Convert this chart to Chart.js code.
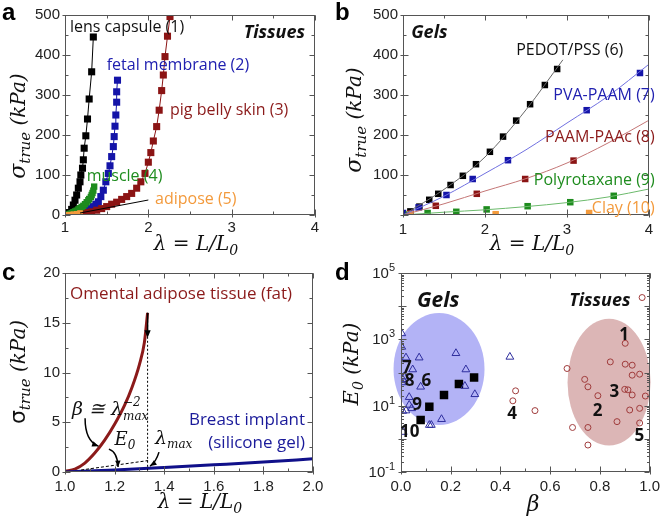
<!DOCTYPE html>
<html>
<head>
<meta charset="utf-8">
<script src="https://cdn.jsdelivr.net/npm/chart.js@4.4.1/dist/chart.umd.min.js"></script>
<style>
  html, body { margin: 0; padding: 0; background: #fff; }
  #wrap { position: relative; width: 666px; height: 517px; overflow: hidden; }
  canvas { position: absolute; }
</style>
</head>
<body>
<div id="wrap">
  <canvas id="ca" width="333" height="258" style="left:0;top:0"></canvas>
  <canvas id="cb" width="333" height="258" style="left:333px;top:0"></canvas>
  <canvas id="cc" width="333" height="259" style="left:0;top:258px"></canvas>
  <canvas id="cd" width="333" height="259" style="left:333px;top:258px"></canvas>
</div>
<script>
// ---- panel a: tissues, stretch vs true stress (kPa)
const lensX = [1.00, 1.05, 1.08, 1.10, 1.12, 1.14, 1.16, 1.18, 1.19, 1.21, 1.22, 1.23, 1.25, 1.27, 1.29, 1.32, 1.34];
const lensY = [0, 6, 14, 25, 37, 50, 67, 83, 100, 117, 138, 167, 198, 240, 290, 358, 445];
const fetalX = [1.10, 1.18, 1.22, 1.26, 1.30, 1.34, 1.37, 1.40, 1.43, 1.46, 1.49, 1.52, 1.54, 1.56, 1.58, 1.59, 1.60, 1.61, 1.62, 1.62, 1.63];
const fetalY = [3, 7, 9, 12, 16, 21, 27, 33, 46, 62, 83, 104, 123, 146, 171, 196, 222, 250, 282, 308, 337];
const pigX = [1.02, 1.10, 1.20, 1.26, 1.32, 1.38, 1.44, 1.50, 1.56, 1.62, 1.68, 1.74, 1.80, 1.86, 1.91, 1.96, 2.00, 2.03, 2.06, 2.10, 2.13, 2.16, 2.18, 2.20, 2.23, 2.26];
const pigY = [0, 1, 3, 6, 8, 12, 16, 21, 27, 32, 39, 46, 54, 67, 83, 104, 132, 156, 185, 221, 262, 311, 350, 396, 447, 496];
const muscleX = [1.02, 1.04, 1.06, 1.08, 1.10, 1.12, 1.14, 1.16, 1.18, 1.20, 1.22, 1.24, 1.26, 1.28, 1.29, 1.31, 1.32, 1.33, 1.34, 1.35];
const muscleY = [1, 2, 3, 5, 7, 9, 11, 14, 17, 20, 23, 27, 32, 37, 40, 45, 50, 55, 61, 71];
const adiposeX = [1.02, 1.06, 1.10, 1.14, 1.18];
const adiposeY = [0.5, 1, 2, 3, 5];

// ---- panel b: gels
const pedotX = [1.00, 1.09, 1.20, 1.32, 1.43, 1.58, 1.73, 1.89, 2.06, 2.22, 2.38, 2.55, 2.73, 2.88];
const pedotY = [0, 9, 21, 38, 53, 75, 98, 127, 158, 196, 236, 277, 325, 365];
const pedotFitX = [1.0, 1.5, 2.0, 2.5, 2.95];
const pedotFitY = [0, 64, 145, 263, 388];
const pvaX = [1.00, 1.19, 1.53, 1.85, 2.28, 3.24, 3.89];
const pvaY = [5, 19, 50, 90, 137, 262, 355];
const pvaFitX = [1.0, 1.5, 2.0, 2.5, 3.0, 3.5, 4.0];
const pvaFitY = [0, 47, 104, 163, 230, 297, 377];
const paamX = [1.09, 1.40, 1.90, 2.49, 3.08];
const paamY = [4, 23, 53, 90, 136];
const paamFitX = [1.0, 1.5, 2.0, 2.5, 3.0, 3.5, 4.0];
const paamFitY = [0, 28, 60, 91, 130, 180, 237];
const polyX = [1.07, 1.30, 1.65, 2.02, 2.52, 3.04, 3.57];
const polyY = [1, 5, 8, 14, 22, 32, 48];
const polyFitX = [1.0, 1.5, 2.0, 2.5, 3.0, 3.5, 4.0];
const polyFitY = [0, 7, 13, 21, 31, 45, 65];
const clayX = [1.09, 2.13, 3.27];
const clayY = [2, 2, 5];

// ---- panel c: fat vs breast implant
const fatX = [1.00, 1.04, 1.08, 1.12, 1.16, 1.20, 1.24, 1.27, 1.30, 1.32, 1.333];
const fatY = [0.07, 0.3, 0.9, 1.9, 3.2, 4.8, 6.7, 8.5, 10.8, 13.0, 16];
const implantX = [1.0, 1.2, 1.4, 1.6, 1.8, 2.0];
const implantY = [0, 0.2, 0.45, 0.72, 1.0, 1.33];

// ---- panel d: beta vs E0 (kPa)
const gelB = [0.003, 0.003, 0.02, 0.073, 0.221, 0.438, 0.047, 0.261, 0.007, 0.079, 0.257, 0.297, 0.033, 0.033, 0.043, 0.02, 0.007, 0.163, 0.114, 0.122, 0.009, 0.004, 0.012];
const gelE = [1510, 590, 280, 280, 380, 295, 123, 123, 62, 37, 39, 22, 18, 10.5, 8.3, 7.1, 6.9, 3.9, 2.6, 2.6, 1.6, 50, 75];
const repB = [0.079, 0.114, 0.173, 0.233, 0.294];
const repE = [3.7, 9.3, 21, 45, 71];
const tisB = [0.97, 0.902, 0.668, 0.842, 0.902, 0.93, 0.93, 0.96, 0.739, 0.752, 0.9, 0.913, 0.93, 0.983, 0.792, 0.96, 0.92, 0.869, 0.96, 0.69, 0.752, 0.752, 0.461, 0.45, 0.539];
const tisE = [18200, 759, 132, 209, 178, 166, 83, 89, 62, 37, 31, 30, 21, 19.5, 20, 8.3, 7.4, 3.3, 3.0, 2.2, 2.2, 0.65, 28, 14, 7.1];
const logTicks = [0.1, 1, 10, 100, 1000, 10000, 100000];

const TICKF = { family: '"Liberation Sans", Arial, sans-serif', size: 15 };
const INK = '#222';
const SANS = '"Open Sans", sans-serif';
const MATH = '"DejaVu Serif", serif';

const pts = (xs, ys) => xs.map((x, i) => ({ x: x, y: ys[i] }));

const marks = (xs, ys, color, style, r, line) => ({
	data: pts(xs, ys),
	pointStyle: style,
	pointRadius: r,
	pointBackgroundColor: color,
	pointBorderColor: color,
	pointBorderWidth: 0,
	borderColor: color,
	borderWidth: 1,
	showLine: line,
});

const curve = (xs, ys, color, width) => ({
	data: pts(xs, ys),
	pointRadius: 0,
	borderColor: color,
	borderWidth: width,
	showLine: true,
	cubicInterpolationMode: 'monotone',
});

const linAxis = (min, max, step, pad, fmt, fit) => ({
	type: 'linear',
	min: min,
	max: max,
	ticks: { stepSize: step, padding: pad, font: TICKF, color: INK, callback: fmt, maxRotation: 0, autoSkip: false },
	grid: { display: false, drawTicks: false },
	border: { display: false },
	afterFit: fit,
});

// draw several text pieces in a row, each with its own font / vertical shift
function rich(ctx, parts, x, y, align) {
	let w = 0;
	parts.forEach((p) => { ctx.font = p[1]; w += ctx.measureText(p[0]).width; });
	let cx = align === 'center' ? x - w / 2 : align === 'right' ? x - w : x;
	ctx.textAlign = 'left';
	ctx.textBaseline = 'alphabetic';
	parts.forEach((p) => {
		ctx.font = p[1];
		ctx.fillText(p[0], cx, y + (p[2] || 0));
		cx += ctx.measureText(p[0]).width;
	});
}

function yTitle(ctx, parts, cx, cy) {
	ctx.save();
	ctx.translate(cx, cy);
	ctx.rotate(-Math.PI / 2);
	rich(ctx, parts, 0, 7, 'center');
	ctx.restore();
}

function label(ctx, s, x, y, font, color, align) {
	ctx.font = font;
	ctx.fillStyle = color;
	ctx.textAlign = align || 'left';
	ctx.textBaseline = 'middle';
	ctx.fillText(s, x, y);
}

function letter(ctx, s, y) {
	ctx.fillStyle = '#000';
	ctx.font = 'bold 24px "Liberation Sans", Arial, sans-serif';
	ctx.textAlign = 'left';
	ctx.textBaseline = 'alphabetic';
	ctx.fillText(s, 2, y);
}

function arrowHead(ctx, x0, y0, x1, y1, size) {
	const a = Math.atan2(y1 - y0, x1 - x0);
	ctx.beginPath();
	ctx.moveTo(x1, y1);
	ctx.lineTo(x1 - size * Math.cos(a - 0.4), y1 - size * Math.sin(a - 0.4));
	ctx.lineTo(x1 - size * Math.cos(a + 0.4), y1 - size * Math.sin(a + 0.4));
	ctx.closePath();
	ctx.fill();
}

// box around the plot with inward ticks on all four sides
const framePlugin = {
	id: 'frame',
	afterDraw(chart, args, o) {
		const { ctx, chartArea: a, scales: { x, y } } = chart;
		const L = Math.round(a.left) + 0.5, R = Math.round(a.right) - 0.5;
		const T = Math.round(a.top) + 0.5, B = Math.round(a.bottom) - 0.5;
		ctx.save();
		ctx.strokeStyle = '#555';
		ctx.lineWidth = 1;
		ctx.strokeRect(L, T, R - L, B - T);
		ctx.beginPath();
		const vt = (v, len, out) => {
			const p = Math.round(x.getPixelForValue(v)) + 0.5;
			ctx.moveTo(p, B + out); ctx.lineTo(p, B - len);
			ctx.moveTo(p, T); ctx.lineTo(p, T + len);
		};
		const ht = (v, len, out) => {
			const p = Math.round(y.getPixelForValue(v)) + 0.5;
			ctx.moveTo(L - out, p); ctx.lineTo(L + len, p);
			ctx.moveTo(R, p); ctx.lineTo(R - len, p);
		};
		x.ticks.forEach((t) => vt(t.value, 5, 3));
		for (let v = x.min; v <= x.max + 1e-9; v += o.xMinor) vt(v, 3, 0);
		if (o.log) {
			logTicks.forEach((v) => ht(v, 5, 3));
			logTicks.slice(0, -1).forEach((d) => {
				for (let k = 2; k < 10; k++) ht(d * k, 2.5, 0);
			});
		} else {
			y.ticks.forEach((t) => ht(t.value, 5, 3));
			for (let v = y.min; v <= y.max + 1e-9; v += o.yMinor) ht(v, 3, 0);
		}
		ctx.stroke();
		ctx.restore();
	},
};

Chart.register(framePlugin);
Chart.defaults.font.family = TICKF.family;

const baseOpts = (pad, xAxis, yAxis, frame) => ({
	responsive: false,
	animation: false,
	events: [],
	layout: { padding: pad },
	plugins: { legend: { display: false }, tooltip: { enabled: false }, frame: frame },
	scales: { x: xAxis, y: yAxis },
});

const sigmaTitle = (sigmaFont) => [
	['σ', sigmaFont, 0],
	['true', 'italic 15px ' + MATH, 5],
	[' (kPa)', 'italic 20px ' + MATH, 0],
];
const lambdaTitle = [['λ = L/L', 'italic 20px ' + MATH, 0], ['0', 'italic 14px ' + MATH, 5]];

// ================= a
new Chart(document.getElementById('ca'), {
	type: 'scatter',
	data: {
		datasets: [
			marks(adiposeX, adiposeY, '#f39a3c', 'rect', 4, false),
			marks(muscleX, muscleY, '#1e8c1e', 'rect', 4.5, false),
			marks(pigX, pigY, '#8b1414', 'rect', 5, true),
			marks(fetalX, fetalY, '#1414a8', 'rect', 5, true),
			marks(lensX, lensY, '#000000', 'rect', 5, true),
		],
	},
	options: baseOpts(
		{ left: 0, right: 18, top: 15, bottom: 0 },
		linAxis(1, 4, 1, 4, (v) => v, (s) => { s.height = 43; }),
		linAxis(0, 500, 100, 5, (v) => v, (s) => { s.width = 65; }),
		{ xMinor: 0.5, yMinor: 50 }
	),
	plugins: [{
		id: 'annA',
		afterDraw(chart) {
			const { ctx, scales: { x, y } } = chart;
			const X = (v) => x.getPixelForValue(v), Y = (v) => y.getPixelForValue(v);
			ctx.save();
			ctx.strokeStyle = '#000';
			ctx.lineWidth = 1;
			ctx.beginPath();
			ctx.moveTo(X(1.18), Y(5));
			ctx.lineTo(X(2.0), Y(37.5));
			ctx.stroke();
			const f = '16px ' + SANS;
			label(ctx, 'lens capsule (1)', X(1.06), Y(470), f, '#111');
			label(ctx, 'Tissues', X(3.88), Y(455), 'bold italic 18px ' + SANS, '#111', 'right');
			label(ctx, 'fetal membrane (2)', X(1.50), Y(375), f, '#2020b0');
			label(ctx, 'pig belly skin (3)', X(2.26), Y(262), f, '#8b1a1a');
			label(ctx, 'muscle (4)', X(1.26), Y(97), f, '#1e8c1e');
			label(ctx, 'adipose (5)', X(2.08), Y(40), f, '#f39a3c');
			ctx.fillStyle = '#111';
			rich(ctx, lambdaTitle, 196, 250, 'center');
			yTitle(ctx, sigmaTitle('italic 22px ' + MATH), 18, 126);
			letter(ctx, 'a', 20);
			ctx.restore();
		},
	}],
});

// ================= b
new Chart(document.getElementById('cb'), {
	type: 'scatter',
	data: {
		datasets: [
			curve(polyFitX, polyFitY, '#6cba6c', 1),
			curve(paamFitX, paamFitY, '#c47676', 1),
			curve(pvaFitX, pvaFitY, '#7070e0', 1),
			curve(pedotFitX, pedotFitY, '#666666', 1),
			marks(clayX, clayY, '#f39a3c', 'rect', 4.6, false),
			marks(polyX, polyY, '#1e8c1e', 'rect', 4.6, false),
			marks(paamX, paamY, '#8b1414', 'rect', 4.6, false),
			marks(pvaX, pvaY, '#1414a8', 'rect', 4.6, false),
			marks(pedotX, pedotY, '#000000', 'rect', 4.6, false),
		],
	},
	options: baseOpts(
		{ left: 0, right: 17, top: 15, bottom: 0 },
		linAxis(1, 4, 1, 6, (v) => v, (s) => { s.height = 43; }),
		linAxis(0, 500, 100, 5, (v) => (v === 0 ? '' : v), (s) => { s.width = 70; }),
		{ xMinor: 0.5, yMinor: 50 }
	),
	plugins: [{
		id: 'annB',
		afterDraw(chart) {
			const { ctx, scales: { x, y } } = chart;
			const X = (v) => x.getPixelForValue(v), Y = (v) => y.getPixelForValue(v);
			ctx.save();
			const f = '16px ' + SANS;
			label(ctx, 'Gels', X(1.10), Y(455), 'bold italic 18px ' + SANS, '#111');
			label(ctx, 'PEDOT/PSS (6)', X(2.38), Y(412), f, '#111');
			label(ctx, 'PVA-PAAM (7)', X(4.07), Y(300), f, '#2020b0', 'right');
			label(ctx, 'PAAM-PAAc (8)', X(4.07), Y(195), f, '#8b1a1a', 'right');
			label(ctx, 'Polyrotaxane (9)', X(4.07), Y(87), f, '#1e8c1e', 'right');
			label(ctx, 'Clay (10)', X(4.07), Y(17), f, '#f39a3c', 'right');
			ctx.fillStyle = '#111';
			rich(ctx, lambdaTitle, 199, 250, 'center');
			yTitle(ctx, sigmaTitle('italic 22px ' + MATH), 21, 120);
			letter(ctx, 'b', 20);
			ctx.restore();
		},
	}],
});

// ================= c
new Chart(document.getElementById('cc'), {
	type: 'scatter',
	data: {
		datasets: [
			curve(implantX, implantY, '#10108a', 3),
			curve(fatX, fatY, '#8b1a1a', 3),
		],
	},
	options: baseOpts(
		{ left: 0, right: 20, top: 15, bottom: 0 },
		linAxis(1, 2, 0.2, 6, (v) => v.toFixed(1), (s) => { s.height = 45; }),
		linAxis(0, 20, 5, 5, (v) => v, (s) => { s.width = 65; }),
		{ xMinor: 0.1, yMinor: 2.5 }
	),
	plugins: [{
		id: 'annC',
		afterDraw(chart) {
			const { ctx, scales: { x, y } } = chart;
			const X = (v) => x.getPixelForValue(v), Y = (v) => y.getPixelForValue(v);
			ctx.save();
			ctx.strokeStyle = '#000';
			ctx.fillStyle = '#000';
			ctx.lineWidth = 1;
			// dotted drop line at lambda max
			ctx.setLineDash([2, 2]);
			ctx.beginPath();
			ctx.moveTo(X(1.333), Y(16));
			ctx.lineTo(X(1.333), Y(0));
			ctx.stroke();
			// initial slope E0
			ctx.setLineDash([3, 2]);
			ctx.beginPath();
			ctx.moveTo(X(1.065), Y(0.2));
			ctx.lineTo(X(1.335), Y(1.15));
			ctx.stroke();
			ctx.setLineDash([]);
			ctx.lineWidth = 1.5;
			ctx.beginPath();
			ctx.moveTo(X(1.333), Y(16));
			ctx.lineTo(X(1.333), Y(14.2));
			ctx.stroke();
			arrowHead(ctx, X(1.333), Y(16), X(1.333), Y(13.5), 8);
			// curved pointers
			const bend = (a, c, b) => {
				ctx.beginPath();
				ctx.moveTo(X(a[0]), Y(a[1]));
				ctx.quadraticCurveTo(X(c[0]), Y(c[1]), X(b[0]), Y(b[1]));
				ctx.stroke();
				arrowHead(ctx, X(c[0]), Y(c[1]), X(b[0]), Y(b[1]), 7);
			};
			bend([1.081, 5.4], [1.081, 3.1], [1.135, 2.6]);
			bend([1.177, 2.3], [1.212, 2.0], [1.214, 0.5]);
			bend([1.379, 2.0], [1.367, 1.0], [1.343, 0.6]);

			label(ctx, 'Omental adipose tissue (fat)', X(1.02), Y(17.9), '17px ' + SANS, '#8b1a1a');
			label(ctx, 'Breast implant', X(1.968), Y(5.2), '17px ' + SANS, '#1a1a9a', 'right');
			label(ctx, '(silicone gel)', X(1.968), Y(2.9), '17px ' + SANS, '#1a1a9a', 'right');

			ctx.fillStyle = '#111';
			const mf = 'italic 19px ' + MATH, sf = 'italic 12px ' + MATH;
			const bx = X(1.028), by = Y(5.7);
			rich(ctx, [['β ≅ λ', mf, 0]], bx, by, 'left');
			ctx.font = mf;
			const ex = bx + ctx.measureText('β ≅ λ').width;
			rich(ctx, [['−2', sf, -9]], ex, by, 'left');
			rich(ctx, [['max', sf, 5]], ex, by, 'left');
			rich(ctx, [['E', 'italic 18px ' + MATH, 0], ['0', 'italic 12px ' + MATH, 4]], X(1.2), Y(2.7), 'left');
			rich(ctx, [['λ', 'italic 19px ' + MATH, 0], ['max', sf, 4]], X(1.363), Y(2.8), 'left');

			rich(ctx, lambdaTitle, 200, 250, 'center');
			yTitle(ctx, sigmaTitle('22px "DejaVu Sans", sans-serif'), 18, 114);
			letter(ctx, 'c', 22);
			ctx.restore();
		},
	}],
});

// ================= d
const ellipses = [
	{ b0: -0.03, b1: 0.336, e0: 2.63, e1: 6170, color: '#b3b3f6' },
	{ b0: 0.67, b1: 1.004, e0: 0.63, e1: 4170, color: '#dcb6b6' },
];

new Chart(document.getElementById('cd'), {
	type: 'scatter',
	data: {
		datasets: [
			{ ...marks(tisB, tisE, 'transparent', 'circle', 3, false), pointBorderColor: '#a03c3c', pointBorderWidth: 1 },
			{ ...marks(gelB, gelE, 'transparent', 'triangle', 4.5, false), pointBorderColor: '#2e2e9e', pointBorderWidth: 1 },
			marks(repB, repE, '#000000', 'rect', 6, false),
		],
	},
	options: baseOpts(
		{ left: 0, right: 16, top: 15, bottom: 0 },
		linAxis(0, 1, 0.2, 6, (v) => v.toFixed(1), (s) => { s.height = 45; }),
		{
			type: 'logarithmic',
			min: 0.1,
			max: 100000,
			ticks: { display: false },
			grid: { display: false, drawTicks: false },
			border: { display: false },
			afterFit: (s) => { s.width = 68; },
		},
		{ xMinor: 0.1, log: true }
	),
	plugins: [{
		id: 'annD',
		beforeDatasetsDraw(chart) {
			const { ctx, scales: { x, y } } = chart;
			ctx.save();
			ellipses.forEach((e) => {
				const l = x.getPixelForValue(e.b0), r = x.getPixelForValue(e.b1);
				const t = y.getPixelForValue(e.e1), b = y.getPixelForValue(e.e0);
				ctx.fillStyle = e.color;
				ctx.beginPath();
				ctx.ellipse((l + r) / 2, (t + b) / 2, (r - l) / 2, (b - t) / 2, 0, 0, Math.PI * 2);
				ctx.fill();
			});
			ctx.restore();
		},
		afterDraw(chart) {
			const { ctx, scales: { x, y } } = chart;
			const X = (v) => x.getPixelForValue(v), Y = (v) => y.getPixelForValue(v);
			ctx.save();
			const nums = [
				['1', 0.898, 1320], ['2', 0.791, 6.8], ['3', 0.858, 26], ['4', 0.447, 5.6], ['5', 0.959, 1.19],
				['6', 0.102, 56], ['7', 0.024, 135], ['8', 0.035, 54], ['9', 0.065, 10.7], ['10', 0.035, 1.6],
			];
			nums.forEach((n) => label(ctx, n[0], X(n[1]), Y(n[2]), 'bold 17px ' + SANS, '#111', 'center'));
			label(ctx, 'Gels', X(0.15), Y(14000), 'bold italic 21px ' + SANS, '#111', 'center');
			label(ctx, 'Tissues', X(0.80), Y(14000), 'bold italic 18px ' + SANS, '#111', 'center');

			ctx.fillStyle = INK;
			[100000, 1000, 10, 0.1].forEach((v) => {
				const e = Math.round(Math.log10(v));
				rich(ctx, [['10', '15px ' + TICKF.family, 0], [e < 0 ? '-' + -e : String(e), '11px ' + TICKF.family, -7]],
					62, Y(v) + 5, 'right');
			});
			ctx.fillStyle = '#111';
			rich(ctx, [['β', 'italic 22px ' + MATH, 0]], 200, 253, 'center');
			yTitle(ctx, [['E', 'italic 21px ' + MATH, 0], ['0', 'italic 14px ' + MATH, 5], [' (kPa)', 'italic 20px ' + MATH, 0]], 18, 106);
			letter(ctx, 'd', 22);
			ctx.restore();
		},
	}],
});
</script>
</body>
</html>
